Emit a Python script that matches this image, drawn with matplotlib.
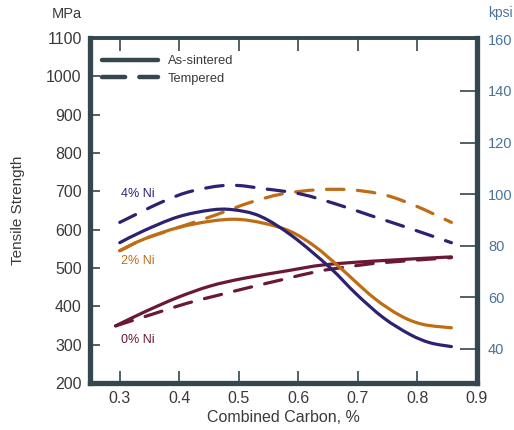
import matplotlib
matplotlib.use("Agg")
import matplotlib.pyplot as plt
from matplotlib.lines import Line2D
from matplotlib.path import Path
from matplotlib.patches import PathPatch

plt.rcParams['font.family'] = ['Liberation Sans', 'DejaVu Sans']

# Tensile strength (MPa) against combined carbon (%)
ni4_sintered_c = [0.300, 0.340, 0.397, 0.452, 0.490, 0.536, 0.590, 0.653, 0.698, 0.743, 0.787, 0.821, 0.857]
ni4_sintered = [566, 597, 633, 651, 652, 635, 583, 501, 431, 370, 327, 305, 295]

ni4_tempered_c = [0.300, 0.372, 0.422, 0.484, 0.546, 0.604, 0.665, 0.723, 0.782, 0.857]
ni4_tempered = [619, 673, 701, 716, 706, 693, 666, 636, 606, 566]

ni2_sintered_c = [0.300, 0.340, 0.397, 0.452, 0.497, 0.541, 0.586, 0.628, 0.670, 0.726, 0.771, 0.809, 0.857]
ni2_sintered = [545, 575, 605, 622, 627, 617, 596, 556, 501, 423, 376, 353, 344]

ni2_tempered_c = [0.300, 0.340, 0.397, 0.430, 0.464, 0.519, 0.572, 0.631, 0.687, 0.744, 0.797, 0.857]
ni2_tempered = [545, 575, 605, 622, 640, 671, 693, 704, 704, 691, 662, 619]

ni0_sintered_c = [0.293, 0.341, 0.397, 0.452, 0.508, 0.586, 0.642, 0.726, 0.857]
ni0_sintered = [349, 385, 423, 453, 473, 494, 508, 518, 529]

ni0_tempered_c = [0.293, 0.360, 0.413, 0.468, 0.522, 0.574, 0.632, 0.687, 0.742, 0.857]
ni0_tempered = [349, 382, 408, 430, 451, 470, 491, 504, 514, 527]

series_labels = ["4% Ni", "2% Ni", "0% Ni"]
mpa_ticks = [200, 300, 400, 500, 600, 700, 800, 900, 1000, 1100]
kpsi_ticks = [40, 60, 80, 100, 120, 140, 160]
carbon_ticks = [0.3, 0.4, 0.5, 0.6, 0.7, 0.8, 0.9]

NAVY = "#2c2272"
ORANGE = "#c06c14"
MAROON = "#6a1836"
FRAME = "#34474f"
KPSI = "#4b7298"
TEXT = "#3a3a3a"


def smooth_path(xs, ys):
    """Catmull-Rom curve through the points, expressed as cubic Bezier segments."""
    verts = [(xs[0], ys[0])]
    codes = [Path.MOVETO]
    n = len(xs)
    for i in range(n - 1):
        x0, y0 = (xs[i - 1], ys[i - 1]) if i > 0 else (xs[i], ys[i])
        x1, y1 = xs[i], ys[i]
        x2, y2 = xs[i + 1], ys[i + 1]
        x3, y3 = (xs[i + 2], ys[i + 2]) if i + 2 < n else (x2, y2)
        c1 = (x1 + (x2 - x0) / 6.0, y1 + (y2 - y0) / 6.0)
        c2 = (x2 - (x3 - x1) / 6.0, y2 - (y3 - y1) / 6.0)
        verts += [c1, c2, (x2, y2)]
        codes += [Path.CURVE4] * 3
    return Path(verts, codes)


def draw_curve(ax, xs, ys, color, dashed=False):
    style = (0, (5.5, 4.2)) if dashed else '-'
    patch = PathPatch(smooth_path(xs, ys), fill=False, edgecolor=color, lw=2.3,
                      linestyle=style, capstyle='round', joinstyle='round')
    ax.add_patch(patch)


fig = plt.figure(figsize=(5.14, 4.30), dpi=100)
ax = fig.add_axes([90 / 514, 47 / 430, 387 / 514, 345 / 430])

draw_curve(ax, ni0_tempered_c, ni0_tempered, MAROON, dashed=True)
draw_curve(ax, ni0_sintered_c, ni0_sintered, MAROON)
draw_curve(ax, ni2_tempered_c, ni2_tempered, ORANGE, dashed=True)
draw_curve(ax, ni2_sintered_c, ni2_sintered, ORANGE)
draw_curve(ax, ni4_tempered_c, ni4_tempered, NAVY, dashed=True)
draw_curve(ax, ni4_sintered_c, ni4_sintered, NAVY)

ax.set_xlim(0.25, 0.9)
ax.set_ylim(200, 1100)

# series labels
ax.text(0.302, 694, series_labels[0], color=NAVY, fontsize=9, va='center')
ax.text(0.302, 519, series_labels[1], color=ORANGE, fontsize=9, va='center')
ax.text(0.302, 313, series_labels[2], color=MAROON, fontsize=9, va='center')

# frame
for side in ['left', 'right', 'bottom', 'top']:
    ax.spines[side].set_color(FRAME)
ax.spines['left'].set_linewidth(3.8)
ax.spines['bottom'].set_linewidth(3.8)
ax.spines['right'].set_linewidth(3.8)
ax.spines['top'].set_linewidth(2.8)

ax.set_yticks(mpa_ticks)
ax.set_yticklabels([str(v) for v in mpa_ticks])
ax.set_xticks(carbon_ticks)
ax.set_xticklabels([f"{v:.1f}" for v in carbon_ticks])
ax.tick_params(axis='y', direction='in', length=7, width=1.2, color=FRAME,
               labelsize=11.5, labelcolor=TEXT, pad=6)
ax.tick_params(axis='x', direction='in', length=9, width=1.2, color=FRAME,
               labelsize=11.5, labelcolor=TEXT, pad=6, top=True)

ax.set_xlabel("Combined Carbon, %", fontsize=11.5, color=TEXT, labelpad=3)
ax.set_ylabel("Tensile Strength", fontsize=11, color=TEXT, labelpad=15)

# secondary strength axis in kpsi
ax2 = ax.twinx()
ax2.set_ylim(26.8, 160.5)
ax2.set_yticks(kpsi_ticks)
ax2.set_yticklabels([str(v) for v in kpsi_ticks])
ax2.tick_params(axis='y', direction='in', length=12, width=1.2, color=FRAME,
                labelsize=10.5, labelcolor=KPSI, pad=8)
for side in ['left', 'right', 'bottom', 'top']:
    ax2.spines[side].set_visible(False)

fig.text(52 / 514, 1 - 14 / 430, "MPa", fontsize=10.5, color=TEXT, va='center')
fig.text(488 / 514, 1 - 13 / 430, "kpsi", fontsize=10, color=KPSI, va='center')

handles = [Line2D([], [], color=FRAME, lw=3.2, solid_capstyle='round'),
           Line2D([], [], color=FRAME, lw=3.2, linestyle=(0, (5.2, 3.2)), dash_capstyle='round')]
ax.legend(handles, ["As-sintered", "Tempered"], loc='upper left', frameon=False,
          fontsize=9.3, handlelength=4.3, handletextpad=0.8, labelspacing=0.45,
          borderpad=0, borderaxespad=0, bbox_to_anchor=(12 / 387, 1 - 17 / 345),
          labelcolor=TEXT)

fig.savefig("out.png", dpi=100, facecolor='white')
